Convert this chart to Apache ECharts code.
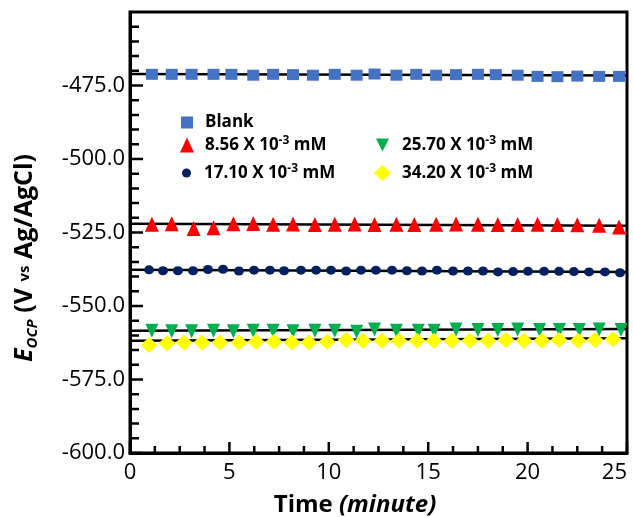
<!DOCTYPE html>
<html>
<head>
<meta charset="utf-8">
<script src="https://cdn.jsdelivr.net/npm/echarts@6/dist/echarts.min.js"></script>
<style>
html, body { margin: 0; padding: 0; background: #fff; }
#chart { width: 633px; height: 517px; }
</style>
</head>
<body>
<div id="chart"></div>
<script>
(function (window) {
    "use strict";
    var FONT = '"Open Sans", "Noto Sans", sans-serif';

    // time (minute)
    var blankTime = [1.1, 2.1, 3.1, 4.2, 5.1, 6.2, 7.2, 8.2, 9.2, 10.3, 11.4, 12.3, 13.4, 14.4, 15.4, 16.4, 17.5, 18.4, 19.5, 20.5, 21.5, 22.5, 23.6, 24.6];
    var blankOcp = [-471.2, -471.2, -471.2, -471.2, -471.2, -471.5, -471.2, -471.3, -471.5, -471.2, -471.5, -471.1, -471.5, -471.2, -471.5, -471.3, -471.2, -471.3, -471.5, -471.9, -472.0, -471.8, -471.9, -471.9];

    var c856Time = [1.1, 2.1, 3.2, 4.2, 5.2, 6.2, 7.2, 8.2, 9.3, 10.3, 11.3, 12.3, 13.4, 14.3, 15.4, 16.4, 17.5, 18.5, 19.5, 20.5, 21.5, 22.5, 23.6, 24.6];
    var c856Ocp = [-522.2, -522.0, -523.6, -523.4, -522.0, -521.9, -522.2, -522.1, -522.3, -522.2, -522.1, -522.3, -522.2, -522.3, -522.2, -522.1, -522.2, -522.3, -522.3, -522.2, -522.3, -522.4, -522.5, -523.1];

    var c1710Time = [0.96, 1.66, 2.41, 3.17, 3.92, 4.68, 5.48, 6.24, 7.04, 7.75, 8.6, 9.36, 10.11, 10.87, 11.62, 12.37, 13.18, 13.93, 14.69, 15.44, 16.25, 17.0, 17.76, 18.51, 19.27, 20.02, 20.83, 21.58, 22.33, 23.09, 23.89, 24.65];
    var c1710Ocp = [-537.7, -538.0, -538.0, -538.0, -537.6, -537.5, -538.1, -537.8, -537.8, -538.0, -537.8, -537.8, -537.8, -538.1, -537.8, -537.8, -537.8, -538.0, -538.1, -537.8, -538.1, -538.1, -538.1, -538.4, -538.3, -538.2, -538.2, -538.2, -538.3, -538.4, -538.4, -538.7];

    var c2570Time = [1.1, 2.1, 3.1, 4.2, 5.2, 6.2, 7.2, 8.2, 9.3, 10.3, 11.4, 12.3, 13.4, 14.5, 15.3, 16.4, 17.5, 18.5, 19.5, 20.6, 21.6, 22.6, 23.6, 24.7];
    var c2570Ocp = [-558.4, -558.6, -558.6, -558.4, -558.6, -558.4, -558.4, -558.6, -558.4, -558.4, -558.8, -558.0, -558.4, -558.4, -558.4, -558.0, -558.2, -558.2, -558.0, -558.2, -558.2, -558.2, -558.0, -558.2];

    var c3420Time = [0.96, 1.86, 2.72, 3.62, 4.53, 5.48, 6.34, 7.24, 8.15, 9.0, 9.91, 10.87, 11.72, 12.68, 13.53, 14.44, 15.29, 16.2, 17.1, 18.01, 18.91, 19.82, 20.72, 21.58, 22.54, 23.39, 24.3];
    var c3420Ocp = [-563.3, -562.7, -562.4, -562.4, -562.4, -562.4, -562.2, -562.2, -562.4, -562.4, -562.2, -561.6, -561.8, -561.8, -561.8, -561.8, -561.8, -561.8, -561.8, -561.8, -561.6, -561.8, -561.8, -561.6, -561.8, -561.6, -561.3];

    // black fit lines, value at t = 0 and t = 25
    var fitTime = [0, 25];
    var fitBlank = [-471.1, -471.6];
    var fit856 = [-522.0, -522.7];
    var fit1710 = [-537.7, -538.4];
    var fit2570 = [-558.4, -557.8];
    var fit3420 = [-561.8, -561.0];

    // tick values
    var xMajorTicks = [0, 5, 10, 15, 20, 25];
    var xMinorTicks = [1.25, 2.5, 3.75, 6.25, 7.5, 8.75, 11.25, 12.5, 13.75, 16.25, 17.5, 18.75, 21.25, 22.5, 23.75];
    var yMajorTicks = [-600, -575, -550, -525, -500, -475];
    var yMinorTicks = [-595, -590, -585, -580, -570, -565, -560, -555, -545, -540, -535, -530, -520, -515, -510, -505, -495, -490, -485, -480, -470, -465, -460, -455];

    var seriesNames = ['Blank', '8.56 X 10-3 mM', '17.10 X 10-3 mM', '25.70 X 10-3 mM', '34.20 X 10-3 mM'];
    var legendTexts = ['{b|Blank}', '{b|8.56 X 10}{s|-3}{b| mM}', '{b|17.10 X 10}{s|-3}{b| mM}', '{b|25.70 X 10}{s|-3}{b| mM}', '{b|34.20 X 10}{s|-3}{b| mM}'];

    var X_MIN = 0, X_MAX = 25, Y_MIN = -600, Y_MAX = -450;
    var GRID = { left: 130, right: 6, top: 12, bottom: 64 };
    var W = 633, H = 517;
    // px per data unit, used to turn tick lengths (px) into axis units
    var X_PX = (W - GRID.left - GRID.right) / (X_MAX - X_MIN);
    var Y_PX = (H - GRID.top - GRID.bottom) / (Y_MAX - Y_MIN);

    var zip = function (xs, ys) {
        return xs.map(function (x, i) { return [x, ys[i]]; });
    };

    var fitLine = function (vals) {
        return {
            type: 'line',
            data: zip(fitTime, vals),
            symbol: 'none',
            z: 1,
            lineStyle: { color: '#000', width: 2.5 }
        };
    };

    var scatter = function (name, xs, ys, symbol, size, color, rotate) {
        return {
            name: name,
            type: 'scatter',
            data: zip(xs, ys),
            symbol: symbol,
            symbolSize: size,
            symbolRotate: rotate || 0,
            z: 3,
            itemStyle: { color: color, opacity: 1 }
        };
    };

    // inside ticks, one short line series each
    var tickLines = function (vals, onX, lenPx) {
        return vals.map(function (v) {
            var data = onX
                ? [[v, Y_MIN], [v, Y_MIN + lenPx / Y_PX]]
                : [[X_MIN, v], [X_MIN + lenPx / X_PX, v]];
            return {
                type: 'line',
                data: data,
                symbol: 'none',
                z: 1,
                lineStyle: { color: '#000', width: 2.5 }
            };
        });
    };

    var legendRich = {
        b: { fontFamily: FONT, fontSize: 17, fontWeight: 'bold', color: '#000', lineHeight: 20 },
        s: { fontFamily: FONT, fontSize: 12, fontWeight: 'bold', color: '#000', verticalAlign: 'top', lineHeight: 20 }
    };

    var makeLegend = function (idx, left, top, w, h, icon, gap) {
        return {
            left: left,
            top: top,
            padding: 0,
            itemWidth: w,
            itemHeight: h,
            selectedMode: false,
            data: [{ name: seriesNames[idx], icon: icon }],
            formatter: function () { return legendTexts[idx]; },
            textStyle: { rich: legendRich, padding: [0, 0, 0, gap] }
        };
    };

    var series = []
        .concat(tickLines(xMajorTicks, true, 11))
        .concat(tickLines(xMinorTicks, true, 7))
        .concat(tickLines(yMajorTicks, false, 13))
        .concat(tickLines(yMinorTicks, false, 9))
        .concat([
            fitLine(fitBlank),
            fitLine(fit856),
            fitLine(fit1710),
            fitLine(fit2570),
            fitLine(fit3420),
            scatter(seriesNames[0], blankTime, blankOcp, 'rect', [12, 11], '#4472C4'),
            scatter(seriesNames[1], c856Time, c856Ocp, 'triangle', [14, 15], '#FF0000'),
            scatter(seriesNames[2], c1710Time, c1710Ocp, 'circle', [10, 9], '#002060'),
            scatter(seriesNames[3], c2570Time, c2570Ocp, 'triangle', [13, 14], '#00B050', 180),
            scatter(seriesNames[4], c3420Time, c3420Ocp, 'diamond', [17, 16], '#FFFF00')
        ]);

    var chart = echarts.init(document.getElementById('chart'));
    var option = {
        animation: false,
        backgroundColor: '#fff',
        grid: {
            left: GRID.left, right: GRID.right, top: GRID.top, bottom: GRID.bottom,
            show: true, borderColor: '#000', borderWidth: 3
        },
        legend: [
            makeLegend(0, 181, 114, 12, 12, 'rect', 7),
            makeLegend(1, 180, 135, 14, 15, 'triangle', 6),
            makeLegend(2, 182, 163, 9, 9, 'circle', 8),
            makeLegend(3, 376, 135, 13, 13, 'path://M0,0L10,0L5,10Z', 8),
            makeLegend(4, 374, 163, 17, 16, 'diamond', 6)
        ],
        xAxis: {
            type: 'value',
            min: X_MIN, max: X_MAX, interval: 5,
            axisLine: { show: true, lineStyle: { color: '#000', width: 3 } },
            axisTick: { show: false },
            splitLine: { show: false },
            axisLabel: { fontFamily: FONT, fontSize: 22, color: '#000', margin: 9, alignMaxLabel: 'right' }
        },
        yAxis: {
            type: 'value',
            min: Y_MIN, max: Y_MAX, interval: 25,
            axisLine: { show: true, lineStyle: { color: '#000', width: 3 } },
            axisTick: { show: false },
            splitLine: { show: false },
            axisLabel: {
                showMaxLabel: false,
                fontFamily: FONT, fontSize: 22, color: '#000', margin: 5,
                formatter: function (v) { return v.toFixed(1); }
            }
        },
        graphic: [{
            type: 'text',
            x: 355, y: 505,
            silent: true,
            style: {
                text: '{b|Time }{i|(minute)}',
                align: 'center', verticalAlign: 'middle',
                rich: {
                    b: { fontFamily: FONT, fontSize: 24, fontWeight: 'bold', fill: '#000' },
                    i: { fontFamily: FONT, fontSize: 24, fontWeight: 'bold', fontStyle: 'italic', fill: '#000' }
                }
            }
        }, {
            type: 'text',
            x: 25, y: 258,
            rotation: Math.PI / 2,
            silent: true,
            style: {
                text: '{e|E}{sub|OCP}{b| (V }{vs|vs}{b| Ag/AgCl)}',
                align: 'center', verticalAlign: 'middle',
                rich: {
                    e: { fontFamily: FONT, fontSize: 25, fontWeight: 'bold', fontStyle: 'italic', fill: '#000', lineHeight: 30 },
                    sub: { fontFamily: FONT, fontSize: 15, fontWeight: 'bold', fontStyle: 'italic', fill: '#000', verticalAlign: 'bottom', lineHeight: 30 },
                    b: { fontFamily: FONT, fontSize: 25, fontWeight: 'bold', fill: '#000', lineHeight: 30 },
                    vs: { fontFamily: FONT, fontSize: 15, fontWeight: 'bold', fill: '#000', lineHeight: 30 }
                }
            }
        }],
        series: series
    };
    chart.setOption(option);
})(window);
</script>
</body>
</html>
